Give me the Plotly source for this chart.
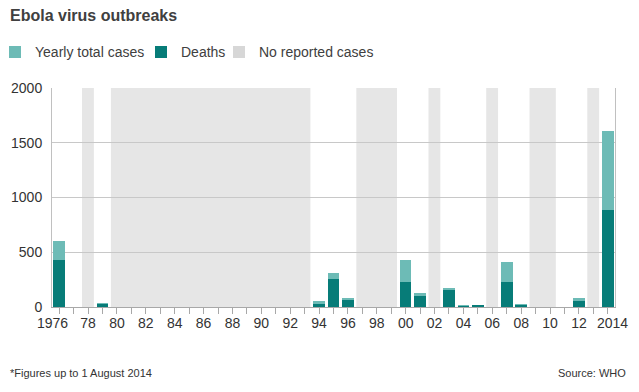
import plotly.graph_objects as go

# ---- data ----
years = [1976, 1979, 1994, 1995, 1996, 2000, 2001, 2003, 2004, 2005, 2007, 2008, 2012, 2014]
total_cases = [602, 34, 52, 315, 84, 425, 124, 178, 17, 12, 413, 32, 86, 1603]
deaths = [431, 30, 31, 254, 68, 224, 104, 157, 7, 10, 224, 15, 54, 887]
no_reported_years = [1978] + list(range(1980, 1994)) + [1997, 1998, 1999, 2002, 2006, 2009, 2010, 2013]
tick_years = list(range(1976, 2015))
tick_labels = ["1976", "78", "80", "82", "84", "86", "88", "90", "92", "94", "96",
               "98", "00", "02", "04", "06", "08", "10", "12", "2014"]

LIGHT = "#6dbbb6"
DARK = "#077c78"
BAND = "#e6e6e6"
BAND_LEGEND = "#d7d7d7"
FONT = "Liberation Sans, Arial, sans-serif"

# page body has an 8px margin: figure coordinates = reference pixels - 8
W, H = 623, 376
ML, MR, MT, MB = 44, 16, 80, 77
PW, PH = W - ML - MR, H - MT - MB


def px_x(fx):  # figure px -> paper x
    return (fx - ML) / PW


def px_y(fy):  # figure px -> paper y
    return (H - MB - fy) / PH


# labels on every second year; the end labels are drawn as offset annotations
tick_text = []
li = 0
for y in tick_years:
    if (y - 1976) % 2 == 0:
        lab = tick_labels[li]; li += 1
        tick_text.append("" if y in (1976, 2014) else lab)
    else:
        tick_text.append("")

fig = go.Figure()
fig.add_trace(go.Bar(x=years, y=total_cases, name="Yearly total cases", legend="legend",
                     marker=dict(color=LIGHT, line=dict(width=0)), width=0.8))
fig.add_trace(go.Bar(x=years, y=deaths, name="Deaths", legend="legend2",
                     marker=dict(color=DARK, line=dict(width=0)), width=0.8))
fig.add_trace(go.Bar(x=no_reported_years, y=[0] * len(no_reported_years), name="No reported cases",
                     legend="legend3",
                     marker=dict(color=BAND_LEGEND, line=dict(width=0)), width=0.8, hoverinfo="skip"))

# gray bands for contiguous runs of years with no reported cases
runs = []
for y in no_reported_years:
    if runs and y == runs[-1][1] + 1:
        runs[-1][1] = y
    else:
        runs.append([y, y])
for a, b in runs:
    fig.add_shape(type="rect", xref="x", yref="paper", x0=a - 0.42, x1=b + 0.4, y0=0, y1=1,
                  fillcolor=BAND, line=dict(width=0), layer="below")

leg_common = dict(orientation="h", xanchor="left", yanchor="middle", y=px_y(44.4),
                  font=dict(family=FONT, size=14, color="#404040"), bgcolor="rgba(0,0,0,0)",
                  itemclick=False, itemdoubleclick=False)

fig.update_layout(
    width=W, height=H,
    margin=dict(l=ML, r=MR, t=MT, b=MB, autoexpand=False),
    barmode="overlay",
    paper_bgcolor="white", plot_bgcolor="white",
    font=dict(family=FONT, size=14, color="#333333"),
    title=dict(text="Ebola virus outbreaks", x=2 / W, xanchor="left", xref="container",
               y=1 - 7.5 / H, yanchor="middle", yref="container",
               font=dict(family=FONT, size=16, color="#404040", weight=700)),
    legend=dict(x=px_x(-13), **leg_common),
    legend2=dict(x=px_x(133), **leg_common),
    legend3=dict(x=px_x(211), **leg_common),
    showlegend=True,
    bargap=0,
)
fig.update_xaxes(range=[1975.5, 2014.5], tickmode="array", tickvals=tick_years, ticktext=tick_text,
                 ticks="outside", ticklen=6, tickcolor="#a8a8a8", tickwidth=1, tickangle=0,
                 automargin=False, ticklabelstandoff=-3,
                 showgrid=False, showline=True, linecolor="#a8a8a8", linewidth=1, mirror=False,
                 tickfont=dict(family=FONT, size=14, color="#333333"), zeroline=False, fixedrange=True)
fig.update_yaxes(range=[0, 2000], tickmode="array", tickvals=[0, 500, 1000, 1500, 2000],
                 showgrid=True, gridcolor="#c8c8c8", gridwidth=1, zeroline=False,
                 showline=True, linecolor="#c0c0c0", linewidth=1, mirror=True,
                 ticks="", ticklabelstandoff=6, automargin=False,
                 tickfont=dict(family=FONT, size=14, color="#333333"), fixedrange=True)

# end tick labels, nudged outwards as in the original
fig.add_annotation(text=tick_labels[0], xref="x", yref="paper", x=tick_years[0], xshift=-7,
                   y=px_y(315), yanchor="middle", xanchor="center", showarrow=False,
                   font=dict(family=FONT, size=14, color="#333333"))
fig.add_annotation(text=tick_labels[-1], xref="x", yref="paper", x=tick_years[-1], xshift=5,
                   y=px_y(315), yanchor="middle", xanchor="center", showarrow=False,
                   font=dict(family=FONT, size=14, color="#333333"))

fig.add_annotation(text="*Figures up to 1 August 2014", xref="paper", yref="paper",
                   x=px_x(0), y=px_y(365), xanchor="left", yanchor="middle",
                   showarrow=False, font=dict(family=FONT, size=11, color="#333333"))
fig.add_annotation(text="Source: WHO", xref="paper", yref="paper",
                   x=px_x(620), y=px_y(365), xanchor="right", yanchor="middle",
                   showarrow=False, font=dict(family=FONT, size=11, color="#333333"))

fig.write_html("out.html")
